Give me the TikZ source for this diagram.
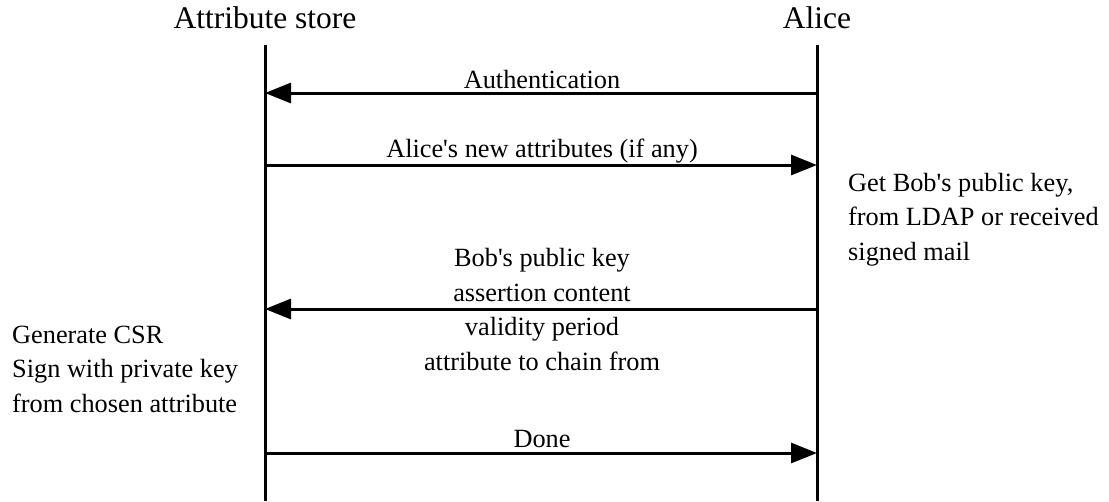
\documentclass[tikz,border=0pt]{standalone}
\usepackage{fontspec}
\setmainfont{Liberation Serif}
\usetikzlibrary{arrows.meta}
\newcommand\sq{\textquotesingle}
\begin{document}
\begin{tikzpicture}[x=1pt,y=-1pt,
  lifeline/.style={line width=3pt},
  msg/.style={line width=3pt,-{Triangle[length=26pt,width=20pt]}},
  header/.style={font=\fontsize{31.5}{38}\selectfont,inner sep=0pt,anchor=base},
  lbl/.style={font=\fontsize{26.3}{34.5}\selectfont,inner sep=0pt,anchor=base,align=center},
  note/.style={font=\fontsize{26.3}{34.5}\selectfont,inner sep=0pt,anchor=base west,align=left}]
\useasboundingbox (0,0) rectangle (1109,501);

% participants
\node[header] (store) at (265,28) {Attribute store};
\node[header] (alice) at (817,28) {Alice};

% lifelines
\coordinate (sTop) at (265,45);
\coordinate (sBot) at (265,501);
\coordinate (aTop) at (817,45);
\coordinate (aBot) at (817,501);
\draw[lifeline] (sTop) -- (sBot);
\draw[lifeline] (aTop) -- (aBot);

% message end points
\coordinate (s1) at (265,93);  \coordinate (a1) at (817,93);
\coordinate (s2) at (265,165); \coordinate (a2) at (817,165);
\coordinate (s3) at (265,309); \coordinate (a3) at (817,309);
\coordinate (s4) at (265,453); \coordinate (a4) at (817,453);

% messages
\draw[msg] (a1) -- (s1);
\draw[msg] (s2) -- (a2);
\draw[msg] (a3) -- (s3);
\draw[msg] (s4) -- (a4);

% message labels (multi-line nodes are anchored on their last baseline)
\node[lbl] (m1) at (542,88) {Authentication};
\node[lbl] (m2) at (542,157) {Alice\sq s new attributes (if any)};
\node[lbl] (m3) at (542,370) {Bob\sq s public key\\assertion content\\validity period\\attribute to chain from};
\node[lbl] (m4) at (542,447) {Done};

% side notes
\node[note] (n1) at (848,260) {Get Bob\sq s public key,\\from LDAP or received\\signed mail};
\node[note] (n2) at (12,412) {Generate CSR\\Sign with private key\\from chosen attribute};
\end{tikzpicture}
\end{document}
